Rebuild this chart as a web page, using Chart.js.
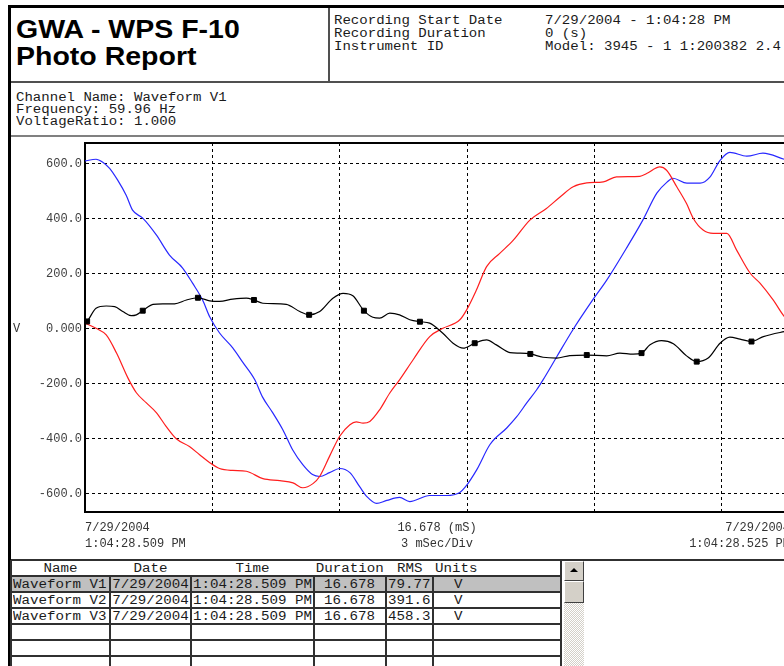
<!DOCTYPE html>
<html>
<head>
<meta charset="utf-8">
<title>GWA - WPS F-10 Photo Report</title>
<script src="https://cdn.jsdelivr.net/npm/chart.js@4.4.1/dist/chart.umd.min.js"></script>
<style>
  html, body { margin: 0; padding: 0; background: #fff; }
  body { position: relative; width: 784px; height: 666px; overflow: hidden;
         font-family: "Liberation Mono", "DejaVu Sans Mono", monospace; font-size: 12px; color: #1a1a1a; }
  .abs { position: absolute; white-space: pre; }
  .sx { display: inline-block; transform: scaleX(1.17); transform-origin: 0 50%; }
  .linea { position: absolute; }
  #titulo { left: 16px; top: 16px; font: bold 25px/27px "Liberation Sans", Arial, sans-serif; color: #000; }
  #titulo span { display: block; transform: scaleX(1.14); transform-origin: 0 50%; }
  .cab { line-height: 13px; }
  .canal { line-height: 12px; }
  .eje { line-height: 16px; color: #333; }
  #grafico { position: absolute; left: 0; top: 137px; }
  .celda { position: absolute; height: 16px; line-height: 16px; white-space: pre; overflow: visible; }
  .celda span { display: inline-block; transform: scaleX(1.18); }
  .izq span { transform-origin: 0 50%; }
  .cen { text-align: center; }
  .cen span { transform-origin: 50% 50%; }
  .boton { position: absolute; left: 564px; width: 18px; background: #d4d0c8;
           border-top: 1px solid #fff; border-left: 1px solid #fff;
           border-right: 1px solid #404040; border-bottom: 1px solid #404040; }
</style>
</head>
<body>

<!-- marco y separadores del informe -->
<div class="linea" style="left:8px;top:5px;width:780px;height:3px;background:#000"></div>
<div class="linea" style="left:8px;top:5px;width:3px;height:670px;background:#000"></div>
<div class="linea" style="left:328px;top:8px;width:2px;height:74px;background:#505050"></div>
<div class="linea" style="left:11px;top:81px;width:780px;height:2px;background:#505050"></div>
<div class="linea" style="left:11px;top:135px;width:780px;height:2px;background:#808080"></div>
<div class="linea" style="left:11px;top:559px;width:780px;height:2px;background:#303030"></div>

<div id="titulo" class="abs"><span>GWA - WPS F-10</span><span>Photo Report</span></div>

<div class="abs cab" style="left:334px;top:15px"><span class="sx">Recording Start Date</span><br><span class="sx">Recording Duration</span><br><span class="sx">Instrument ID</span></div>
<div class="abs cab" style="left:545px;top:15px"><span class="sx">7/29/2004 - 1:04:28 PM</span><br><span class="sx">0 (s)</span><br><span class="sx">Model: 3945 - 1 1:200382 2.4</span></div>

<div class="abs canal" style="left:16px;top:92px"><span class="sx">Channel Name: Waveform V1</span><br><span class="sx">Frequency: 59.96 Hz</span><br><span class="sx">VoltageRatio: 1.000</span></div>

<canvas id="grafico" width="800" height="423"></canvas>

<div class="abs" style="left:13px;top:322px;color:#333">V</div>

<div class="abs eje" style="left:85px;top:520px">7/29/2004<br>1:04:28.509 PM</div>
<div class="abs eje" style="left:337px;top:520px;width:200px;text-align:center">16.678 (mS)<br>3 mSec/Div</div>
<div class="abs eje" style="left:590px;top:520px;width:200px;text-align:right">7/29/2004<br>1:04:28.525 PM</div>

<div id="tabla"></div>

<!-- barra de desplazamiento -->
<div class="boton" style="top:561px;height:18px"></div>
<div class="linea" style="left:570px;top:568px;width:0;height:0;border-left:4px solid transparent;border-right:4px solid transparent;border-bottom:4px solid #000"></div>
<div class="boton" style="top:581px;height:20px"></div>
<div class="linea" style="left:564px;top:603px;width:20px;height:70px;background:repeating-conic-gradient(#fff 0 25%, #d4d0c8 0 50%) 0 0/2px 2px"></div>

<script>
// Datos de las formas de onda (tiempo en ms, tension en V)
var v1Tiempo = [0, 0.05, 0.26, 0.50, 0.70, 0.89, 1.09, 1.21, 1.36, 1.60, 1.83, 2.11, 2.39, 2.66, 2.94, 3.17, 3.48, 3.80, 3.98, 4.19, 4.74, 5.06, 5.28, 5.53, 5.84, 6.08, 6.31, 6.57, 6.78, 6.94, 7.18, 7.41, 7.65, 7.89, 8.12, 8.43, 8.67, 8.91, 9.18, 9.46, 9.69, 10.01, 10.24, 10.49, 10.79, 11.11, 11.42, 11.82, 12.29, 12.60, 12.91, 13.11, 13.31, 13.58, 13.86, 14.17, 14.41, 14.68, 14.96, 15.19, 15.43, 15.70, 15.98, 16.47, 16.678];
var v1Voltios = [20, 26, 74, 82, 80, 62, 47, 50, 65, 88, 90, 90, 104, 112, 101, 99, 107, 111, 104, 92, 88, 62, 50, 62, 110, 128, 119, 65, 41, 38, 56, 50, 32, 25, 20, -17, -53, -71, -53, -41, -59, -87, -89, -92, -104, -107, -98, -96, -99, -89, -93, -89, -59, -44, -55, -99, -120, -107, -53, -31, -38, -47, -29, -11, -5];
var v1Marcas = [0.05, 1.36, 2.66, 3.98, 5.28, 6.57, 7.89, 9.18, 10.49, 11.82, 13.11, 14.41, 15.70];

var v2Tiempo = [0, 0.26, 0.50, 0.74, 1.01, 1.21, 1.44, 1.68, 1.91, 2.15, 2.46, 2.70, 2.94, 3.17, 3.48, 3.80, 4.19, 4.59, 4.90, 5.13, 5.37, 5.53, 5.76, 6.00, 6.24, 6.39, 6.55, 6.71, 6.94, 7.18, 7.41, 7.73, 8.12, 8.43, 8.83, 8.99, 9.22, 9.46, 9.77, 10.09, 10.48, 10.87, 11.19, 11.50, 11.82, 12.21, 12.52, 13.07, 13.23, 13.54, 13.70, 13.94, 14.17, 14.33, 14.56, 14.80, 15.12, 15.35, 15.67, 15.90, 16.21, 16.47, 16.678];
var v2Voltios = [20, 1, -23, -88, -179, -233, -269, -305, -355, -400, -428, -458, -487, -508, -515, -518, -545, -552, -560, -578, -563, -536, -464, -391, -349, -339, -343, -337, -295, -234, -186, -113, -29, 1, 32, 68, 140, 225, 273, 321, 394, 436, 478, 515, 529, 533, 551, 553, 563, 587, 575, 515, 454, 400, 358, 346, 346, 285, 201, 165, 104, 44, 10];

var v3Tiempo = [0, 0.26, 0.41, 0.58, 0.77, 0.97, 1.12, 1.36, 1.68, 1.99, 2.30, 2.53, 2.77, 2.94, 3.17, 3.48, 3.71, 4.00, 4.18, 4.42, 4.66, 4.89, 5.13, 5.36, 5.53, 5.76, 6.00, 6.24, 6.47, 6.64, 6.87, 7.11, 7.41, 7.65, 8.12, 8.52, 8.83, 8.95, 9.23, 9.54, 9.94, 10.17, 10.41, 10.64, 10.79, 11.11, 11.49, 11.96, 12.29, 12.77, 13.14, 13.47, 13.71, 13.85, 14.18, 14.49, 14.72, 14.96, 15.19, 15.59, 15.97, 16.47, 16.678];
var v3Voltios = [609, 615, 605, 582, 539, 484, 430, 401, 340, 267, 220, 166, 104, 42, -16, -70, -121, -186, -248, -305, -367, -440, -494, -530, -537, -523, -508, -523, -574, -610, -635, -624, -613, -628, -606, -606, -595, -577, -512, -421, -360, -320, -269, -222, -186, -103, -5, 104, 176, 296, 394, 492, 532, 546, 528, 528, 550, 611, 640, 626, 637, 615, 605];

var divisionesX = [3, 6, 9, 12, 15];
var ticksY = [-600, -400, -200, 0, 200, 400, 600];
var etiquetasY = ['-600.0', '-400.0', '-200.0', '0.000', '200.0', '400.0', '600.0'];

// Tabla de canales
var columnasTabla = ['Name', 'Date', 'Time', 'Duration', 'RMS', 'Units'];
var nombresCanal = ['Waveform V1', 'Waveform V2', 'Waveform V3'];
var fechasCanal = ['7/29/2004', '7/29/2004', '7/29/2004'];
var horasCanal = ['1:04:28.509 PM', '1:04:28.509 PM', '1:04:28.509 PM'];
var duracionCanal = ['16.678', '16.678', '16.678'];
var rmsCanal = ['79.77', '391.6', '458.3'];
var unidadesCanal = ['V', 'V', 'V'];

function puntos(tiempos, valores) {
   return tiempos.map(function (t, i) { return { x: t, y: valores[i] }; });
}

// linea superior del recuadro del grafico
var marcoSuperior = {
   id: 'marcoSuperior',
   afterDraw: function (chart) {
      var c = chart.ctx, a = chart.chartArea;
      c.save();
      c.strokeStyle = '#000';
      c.lineWidth = 2;
      c.beginPath();
      c.moveTo(a.left, a.top);
      c.lineTo(a.right, a.top);
      c.stroke();
      c.restore();
   }
};

var ctxOnda = document.getElementById('grafico').getContext('2d');

new Chart(ctxOnda, {
   type: 'line',
   data: {
      datasets: [{
         label: 'Waveform V1',
         data: puntos(v1Tiempo, v1Voltios),
         borderColor: '#000',
         borderWidth: 1.2,
         cubicInterpolationMode: 'monotone',
         pointStyle: 'rect',
         pointBackgroundColor: '#000',
         pointBorderColor: '#000',
         pointBorderWidth: 1,
         pointRadius: function (c) {
            return c.raw && v1Marcas.indexOf(c.raw.x) >= 0 ? 3.5 : 0;
         }
      }, {
         label: 'Waveform V2',
         data: puntos(v2Tiempo, v2Voltios),
         borderColor: 'rgb(255, 30, 30)',
         borderWidth: 1.2,
         cubicInterpolationMode: 'monotone',
         pointRadius: 0
      }, {
         label: 'Waveform V3',
         data: puntos(v3Tiempo, v3Voltios),
         borderColor: 'rgb(40, 40, 255)',
         borderWidth: 1.2,
         cubicInterpolationMode: 'monotone',
         pointRadius: 0
      }]
   },
   options: {
      responsive: false,
      animation: false,
      events: [],
      layout: { padding: { top: 6, right: 7, left: 0, bottom: 0 } },
      plugins: {
         legend: { display: false },
         tooltip: { enabled: false }
      },
      scales: {
         x: {
            type: 'linear',
            min: 0,
            max: 16.678,
            afterBuildTicks: function (s) {
               s.ticks = divisionesX.map(function (v) { return { value: v }; });
            },
            afterFit: function (s) {
               s.height = 48;
               s.paddingLeft = 0;
               s.paddingRight = 0;
            },
            ticks: { display: false },
            grid: { color: '#000', lineWidth: 1, drawTicks: false },
            border: { display: true, color: '#000', width: 2, dash: [3, 3] }
         },
         y: {
            type: 'linear',
            min: -666,
            max: 674,
            afterBuildTicks: function (s) {
               s.ticks = ticksY.map(function (v) { return { value: v }; });
            },
            afterFit: function (s) {
               s.width = 85;
               s.paddingTop = 0;
               s.paddingBottom = 0;
            },
            ticks: {
               padding: 3,
               color: '#404040',
               font: { family: 'Liberation Mono', size: 12 },
               callback: function (value) {
                  return etiquetasY[ticksY.indexOf(value)];
               }
            },
            grid: { color: '#000', lineWidth: 1, drawTicks: false },
            border: { display: true, color: '#000', width: 2, dash: [3, 3] }
         }
      }
   },
   plugins: [marcoSuperior]
});

// Construir la tabla inferior
var bordesCol = [11, 110, 191, 314, 386, 433, 561];
var tabla = document.getElementById('tabla');
var html = '';
var filaAlto = 16, tablaTop = 560;

function celda(x, y, w, texto, clase, extra) {
   return '<div class="celda ' + clase + '" style="left:' + x + 'px;top:' + y + 'px;width:' + w + 'px;' + (extra || '') + '"><span>' + texto + '</span></div>';
}

// fila seleccionada
html += '<div class="linea" style="left:11px;top:' + (tablaTop + filaAlto) + 'px;width:550px;height:' + filaAlto + 'px;background:#c0c0c0"></div>';

columnasTabla.forEach(function (col, j) {
   var x0 = bordesCol[j], w = bordesCol[j + 1] - bordesCol[j];
   if (col === 'Units') {
      html += celda(x0 + 2, tablaTop + 1, w, col, 'izq');
   } else {
      html += celda(x0, tablaTop + 1, w, col, 'cen');
   }
});

nombresCanal.forEach(function (nombre, i) {
   var y = tablaTop + filaAlto * (i + 1) + 1;
   html += celda(bordesCol[0] + 2, y, 99, nombre, 'izq');
   html += celda(bordesCol[1], y, 81, fechasCanal[i], 'cen');
   html += celda(bordesCol[2], y, 123, horasCanal[i], 'cen');
   html += celda(bordesCol[3], y, 72, duracionCanal[i], 'cen');
   html += celda(bordesCol[4] + 2, y, 47, rmsCanal[i], 'izq');
   html += celda(bordesCol[5] + 21, y, 20, unidadesCanal[i], 'izq');
});

// lineas horizontales
for (var r = 1; r <= 6; r++) {
   html += '<div class="linea" style="left:11px;top:' + (tablaTop + filaAlto * r - 1) + 'px;width:550px;height:2px;background:#303030"></div>';
}
// lineas verticales
bordesCol.forEach(function (x, j) {
   var top = (j === 0 || j === bordesCol.length - 1) ? tablaTop : tablaTop + filaAlto;
   html += '<div class="linea" style="left:' + (x - 1) + 'px;top:' + top + 'px;width:2px;height:' + (680 - top) + 'px;background:#303030"></div>';
});

tabla.innerHTML = html;
</script>
</body>
</html>
